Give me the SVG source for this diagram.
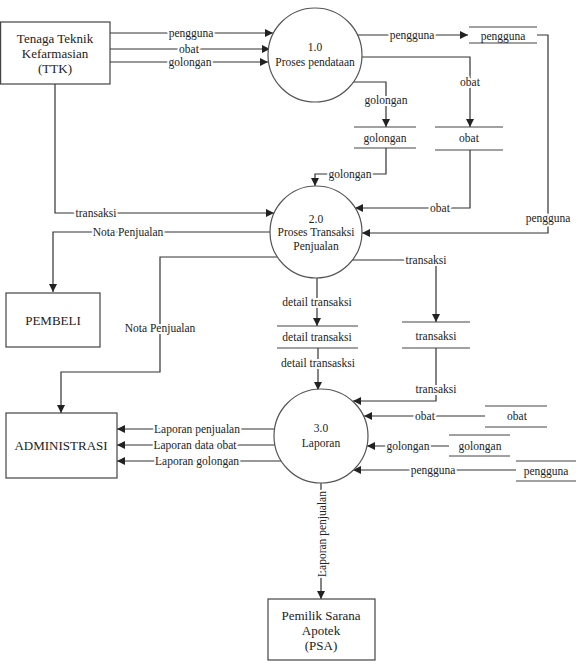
<svg xmlns="http://www.w3.org/2000/svg" width="578" height="671" viewBox="0 0 578 671">
<defs>
<marker id="arr" viewBox="0 0 10 10" refX="10" refY="5" markerWidth="8" markerHeight="8" markerUnits="userSpaceOnUse" orient="auto">
<path d="M0,0 L10,5 L0,10 z" fill="#222"/>
</marker>
<style>
.box{fill:#fff;stroke:#444;stroke-width:1.2}
.proc{fill:#fff;stroke:#555;stroke-width:1.2}
.st{stroke:#444;stroke-width:1.2;fill:none}
.ln{stroke:#333;stroke-width:1.2;fill:none}
.ar{marker-end:url(#arr)}
text{font-family:"Liberation Serif","Times New Roman",serif;fill:#222;text-anchor:middle;dominant-baseline:central}
.big{font-size:13px}
.sm{font-size:11.5px}
.lbl{font-size:11.5px;stroke:#fff;stroke-width:4;paint-order:stroke;stroke-linejoin:round}
</style>
</defs>
<rect width="578" height="671" fill="#fff"/>

<g id="connectors">
<path class="ln ar" d="M110,33 H273"/>
<path class="ln ar" d="M110,49 H270"/>
<path class="ln ar" d="M110,62 H268"/>
<path class="ln ar" d="M357,35 H468"/>
<path class="ln ar" d="M362,57 H470 V127"/>
<path class="ln ar" d="M353,82 H386 V127"/>
<path class="ln ar" d="M537,35 H548 V233 H362"/>
<path class="ln ar" d="M386,148 V174 H315 V186"/>
<path class="ln ar" d="M470,150 V208 H355"/>
<path class="ln ar" d="M55,84 V213 H274"/>
<path class="ln ar" d="M270,232 H53 V292"/>
<path class="ln ar" d="M277,257 H160 V372 H61 V413"/>
<path class="ln ar" d="M317,278 V326"/>
<path class="ln ar" d="M318,348 V390"/>
<path class="ln ar" d="M352,260 H436 V322"/>
<path class="ln ar" d="M436,348 V401 H353"/>
<path class="ln ar" d="M485,416 H364"/>
<path class="ln ar" d="M449,446 H367"/>
<path class="ln ar" d="M516,470 H353"/>
<path class="ln ar" d="M275,429 H117"/>
<path class="ln ar" d="M275,445 H117"/>
<path class="ln ar" d="M281,461 H117"/>
<path class="ln ar" d="M321,483 V599"/>
<text class="lbl" x="191" y="33">pengguna</text>
<text class="lbl" x="189" y="49">obat</text>
<text class="lbl" x="190" y="62">golongan</text>
<text class="lbl" x="412" y="35">pengguna</text>
<text class="lbl" x="470" y="82">obat</text>
<text class="lbl" x="386" y="100">golongan</text>
<text class="lbl" x="548" y="218">pengguna</text>
<text class="lbl" x="350" y="174">golongan</text>
<text class="lbl" x="440" y="208">obat</text>
<text class="lbl" x="96" y="213">transaksi</text>
<text class="lbl" x="128" y="232">Nota Penjualan</text>
<text class="lbl" x="160" y="328">Nota Penjualan</text>
<text class="lbl" x="317" y="302">detail transaksi</text>
<text class="lbl" x="318" y="363">detail transasksi</text>
<text class="lbl" x="426" y="260">transaksi</text>
<text class="lbl" x="436" y="389">transaksi</text>
<text class="lbl" x="425" y="416">obat</text>
<text class="lbl" x="408" y="446">golongan</text>
<text class="lbl" x="433" y="470">pengguna</text>
<text class="lbl" x="197" y="429">Laporan penjualan</text>
<text class="lbl" x="195" y="445">Laporan data obat</text>
<text class="lbl" x="197" y="461">Laporan golongan</text>
<text class="lbl" x="322" y="534" transform="rotate(-90 322 534)">Laporan penjualan</text>
</g>

<g id="ttk">
<rect class="box" x="0.6" y="22" width="109.4" height="62"/>
<text class="big" x="55" y="38">Tenaga Teknik</text>
<text class="big" x="55" y="53">Kefarmasian</text>
<text class="big" x="55" y="68">(TTK)</text>
</g>
<g id="p1">
<circle class="proc" cx="315" cy="55" r="47"/>
<text class="sm" x="315" y="47">1.0</text>
<text class="sm" x="315" y="62">Proses pendataan</text>
</g>
<g id="ds-pengguna1">
<path class="st" d="M469,27 H537 M469,43 H537"/>
<text class="sm" x="503" y="36">pengguna</text>
</g>
<g id="ds-golongan1">
<path class="st" d="M354,127 H416 M354,148 H416"/>
<text class="sm" x="385" y="138">golongan</text>
</g>
<g id="ds-obat1">
<path class="st" d="M435,127 H503 M435,150 H503"/>
<text class="sm" x="469" y="138">obat</text>
</g>
<g id="p2">
<circle class="proc" cx="316" cy="232" r="46"/>
<text class="sm" x="316" y="219">2.0</text>
<text class="sm" x="316" y="232">Proses Transaksi</text>
<text class="sm" x="316" y="246">Penjualan</text>
</g>
<g id="pembeli">
<rect class="box" x="6" y="293" width="94" height="54"/>
<text class="big" x="53" y="320">PEMBELI</text>
</g>
<g id="ds-detail">
<path class="st" d="M277,326 H358 M277,348 H358"/>
<text class="sm" x="317" y="337">detail transaksi</text>
</g>
<g id="ds-transaksi">
<path class="st" d="M402,322 H470 M402,348 H470"/>
<text class="sm" x="436" y="336">transaksi</text>
</g>
<g id="admin">
<rect class="box" x="6" y="413" width="111" height="65"/>
<text class="big" x="61" y="445">ADMINISTRASI</text>
</g>
<g id="p3">
<circle class="proc" cx="321" cy="436" r="47"/>
<text class="sm" x="321" y="428">3.0</text>
<text class="sm" x="321" y="443">Laporan</text>
</g>
<g id="ds-obat2">
<path class="st" d="M485,406 H547 M485,427 H547"/>
<text class="sm" x="517" y="416">obat</text>
</g>
<g id="ds-golongan2">
<path class="st" d="M449,435 H510 M449,456 H510"/>
<text class="sm" x="480" y="446">golongan</text>
</g>
<g id="ds-pengguna2">
<path class="st" d="M516,461 H576 M516,481 H576"/>
<text class="sm" x="546" y="471">pengguna</text>
</g>
<g id="psa">
<rect class="box" x="268" y="599" width="107" height="61"/>
<text class="big" x="321" y="615">Pemilik Sarana</text>
<text class="big" x="321" y="630">Apotek</text>
<text class="big" x="321" y="645">(PSA)</text>
</g>
</svg>
